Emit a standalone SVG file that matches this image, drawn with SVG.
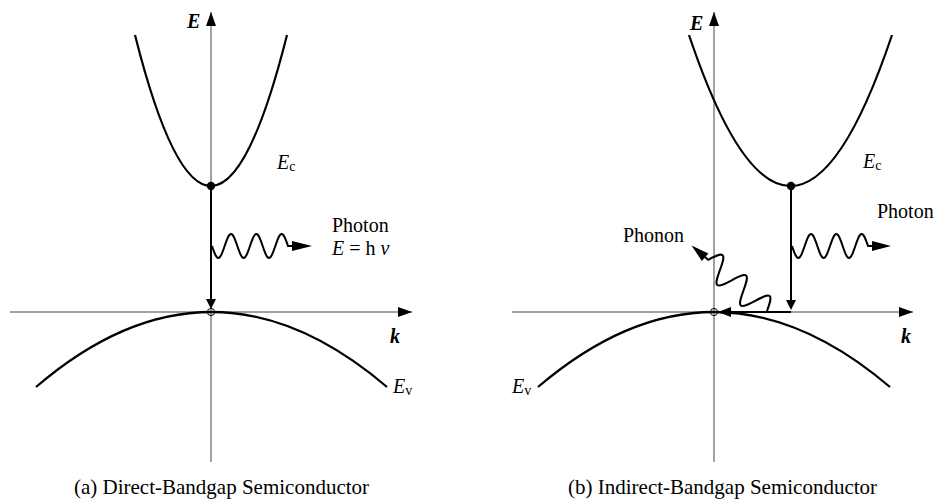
<svg xmlns="http://www.w3.org/2000/svg" width="937" height="503" viewBox="0 0 937 503">
<style>
.axis{stroke:#444;stroke-width:1;fill:none}
.band{stroke:#000;stroke-width:2.2;fill:none}
.tr{stroke:#000;stroke-width:2;fill:none}
.wave{stroke:#000;stroke-width:2;fill:none}
.head{fill:#000;stroke:none}
.t{font-family:"Liberation Serif","Times New Roman",serif;font-size:20px;fill:#000}
.cap{font-size:21px}
.i{font-style:italic}
.b{font-weight:bold;font-style:italic}
.sub{font-size:14px;font-style:normal}
</style>
<defs>
<marker id="axhead" markerUnits="userSpaceOnUse" markerWidth="15" markerHeight="11" refX="14" refY="5" orient="auto">
<path d="M0,0 L14,5 L0,10 z" fill="#000"/>
</marker>
</defs>

<g id="panel-a">
<g id="axes-a">
<line class="axis" x1="211" y1="462" x2="211" y2="12" marker-end="url(#axhead)"/>
<line class="axis" x1="10" y1="312" x2="412" y2="312" marker-end="url(#axhead)"/>
<text class="t b" x="187" y="28">E</text>
<text class="t b" x="390" y="343">k</text>
</g>
<g id="Ec-a">
<path class="band" d="M135,35 Q211,337 287,35"/>
<text class="t i" x="277" y="169">E<tspan class="sub" dy="2">c</tspan></text>
</g>
<g id="Ev-a">
<path class="band" d="M36,387 Q211,237 387,387"/>
<text class="t i" x="393" y="393">E<tspan class="sub" dy="2">v</tspan></text>
</g>
<g id="electron-a"><circle cx="211" cy="186" r="4.2" fill="#000"/></g>
<g id="hole-a"><circle cx="211" cy="312" r="3.6" fill="none" stroke="#000" stroke-width="1"/></g>
<g id="transition-a">
<line class="tr" x1="211" y1="186" x2="211" y2="301"/>
<polygon class="head" points="206,299 216,299 211,309"/>
</g>
<g id="photon-a">
<path class="wave" d="M212,246 c2.117,6.301 4.032,12 6.333,12 c2.301,0 4.216,-5.699 6.333,-12 c2.117,-6.301 4.032,-12 6.333,-12 c2.301,0 4.216,5.699 6.333,12 c2.117,6.301 4.032,12 6.333,12 c2.301,0 4.216,-5.699 6.333,-12 c2.117,-6.301 4.032,-12 6.333,-12 c2.301,0 4.216,5.699 6.333,12 c2.117,6.301 4.032,12 6.333,12 c2.301,0 4.216,-5.699 6.333,-12 c2.117,-6.301 4.032,-12 6.333,-12 c2.301,0 4.216,5.699 6.333,12 l5,0"/>
<polygon class="head" points="292,241 292,251 312,246"/>
<text class="t" x="332" y="232">Photon</text>
<text class="t" x="332" y="255"><tspan class="i">E</tspan> = h <tspan class="i">ν</tspan></text>
</g>
<text id="caption-a" class="t cap" x="74" y="494">(a) Direct-Bandgap Semiconductor</text>
</g>

<g id="panel-b">
<g id="axes-b">
<line class="axis" x1="714" y1="462" x2="714" y2="12" marker-end="url(#axhead)"/>
<line class="axis" x1="512" y1="312" x2="913" y2="312" marker-end="url(#axhead)"/>
<text class="t b" x="690" y="30">E</text>
<text class="t b" x="901" y="343">k</text>
</g>
<g id="Ec-b">
<path class="band" d="M689,35 Q790.5,337 892,35"/>
<text class="t i" x="863" y="168">E<tspan class="sub" dy="2">c</tspan></text>
</g>
<g id="Ev-b">
<path class="band" d="M538,387 Q714,237 890,387"/>
<text class="t i" x="512" y="393">E<tspan class="sub" dy="2">v</tspan></text>
</g>
<g id="electron-b"><circle cx="791" cy="186" r="4.2" fill="#000"/></g>
<g id="hole-b"><circle cx="714" cy="312" r="3.6" fill="none" stroke="#000" stroke-width="1"/></g>
<g id="transition-b">
<line class="tr" x1="791" y1="186" x2="791" y2="302"/>
<polygon class="head" points="786,300 796,300 791,310"/>
<line class="tr" x1="791" y1="312" x2="728" y2="312"/>
<polygon class="head" points="731,307 731,317 718,312"/>
</g>
<g id="photon-b">
<path class="wave" d="M792,246 c2.117,6.301 4.032,12 6.333,12 c2.301,0 4.216,-5.699 6.333,-12 c2.117,-6.301 4.032,-12 6.333,-12 c2.301,0 4.216,5.699 6.333,12 c2.117,6.301 4.032,12 6.333,12 c2.301,0 4.216,-5.699 6.333,-12 c2.117,-6.301 4.032,-12 6.333,-12 c2.301,0 4.216,5.699 6.333,12 c2.117,6.301 4.032,12 6.333,12 c2.301,0 4.216,-5.699 6.333,-12 c2.117,-6.301 4.032,-12 6.333,-12 c2.301,0 4.216,5.699 6.333,12 l5,0"/>
<polygon class="head" points="872,241 872,251 891,246"/>
<text class="t" x="877" y="218">Photon</text>
</g>
<g id="phonon-b">
<g transform="translate(767,311) rotate(221)">
<path class="wave" d="M0,0 c2.608,6.826 4.966,13 7.8,13 c2.834,0 5.192,-6.174 7.8,-13 c2.608,-6.826 4.966,-13 7.8,-13 c2.834,0 5.192,6.174 7.8,13 c2.608,6.826 4.966,13 7.8,13 c2.834,0 5.192,-6.174 7.8,-13 c2.608,-6.826 4.966,-13 7.8,-13 c2.834,0 5.192,6.174 7.8,13 c2.608,6.826 4.966,13 7.8,13 c2.834,0 5.192,-6.174 7.8,-13 l5,0"/>
<polygon class="head" points="82,-5 82,5 100,0"/>
</g>
<text class="t" x="623" y="242">Phonon</text>
</g>
<text id="caption-b" class="t cap" x="568" y="494">(b) Indirect-Bandgap Semiconductor</text>
</g>
</svg>
